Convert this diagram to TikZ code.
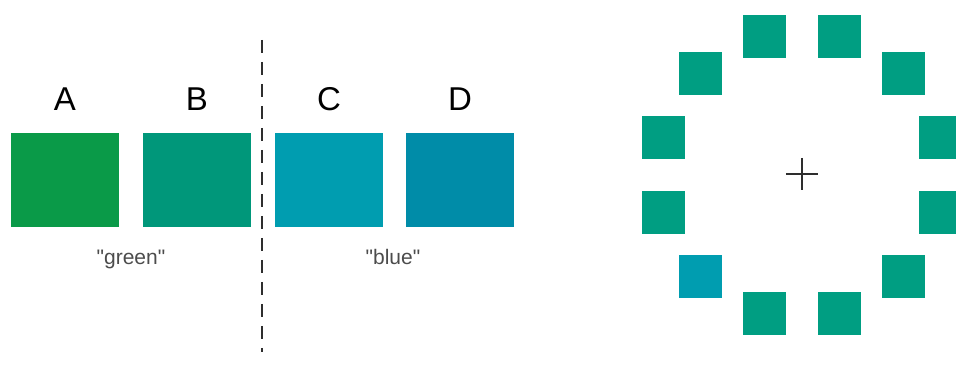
\documentclass[tikz,border=0pt]{standalone}
\usepackage{fontspec}
\setmainfont{Liberation Sans}
\newfontfamily\tagfont{Liberation Sans}[Ligatures=TeXOff]
\definecolor{greenA}{HTML}{0A9A48}
\definecolor{greenB}{HTML}{00977A}
\definecolor{blueC}{HTML}{009DB0}
\definecolor{blueD}{HTML}{008CA8}
\definecolor{ringsq}{HTML}{009E82}
\definecolor{inkgray}{HTML}{2E2E2E}
\begin{document}
\begin{tikzpicture}[x=1pt, y=-1pt,
    swatch/.style={rectangle, inner sep=0pt, minimum width=108pt, minimum height=94pt},
    ringbox/.style={rectangle, inner sep=0pt, minimum size=43pt},
    letter/.style={anchor=base, inner sep=0pt, font=\fontsize{33}{36}\selectfont},
    tag/.style={anchor=base, inner sep=0pt, text=black!70, font=\tagfont\fontsize{21}{24}\selectfont}]
    \useasboundingbox (0,0) rectangle (956,371);

    % Colour swatches
    \foreach \nm/\x/\col in {A/65/greenA, B/197/greenB, C/329/blueC, D/460/blueD} {
        \node[swatch, fill=\col] (sq\nm) at (\x,180) {};
        \node[letter] (lab\nm) at (\x,111) {\nm};
    }
    \node[tag] (green) at (131,265) {"green"};
    \node[tag] (blue) at (393,265) {"blue"};

    % Category boundary
    \coordinate (bndtop) at (262,40);
    \coordinate (bndbot) at (262,352);
    \draw[inkgray, line width=2pt, dash pattern=on 13pt off 9pt] (bndtop) -- (bndbot);

    % Ring of squares round the fixation cross
    \node[inner sep=0pt, minimum size=32pt] (fix) at (802,174) {};
    \draw[inkgray, line width=2.6pt] (fix.north) -- (fix.south) (fix.west) -- (fix.east);
    \foreach \k in {0,...,11} {
        \pgfmathsetmacro{\ang}{15+30*\k}
        \ifnum\k=7
            \node[ringbox, fill=blueC] (ring\k) at ([shift={(\ang:143pt)}]802,175) {};
        \else
            \node[ringbox, fill=ringsq] (ring\k) at ([shift={(\ang:143pt)}]802,175) {};
        \fi
    }
\end{tikzpicture}
\end{document}
